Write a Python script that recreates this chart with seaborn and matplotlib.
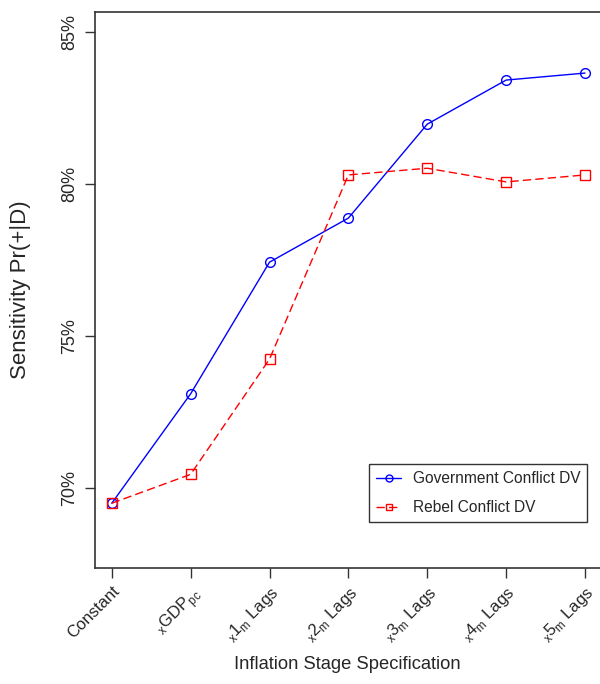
import numpy as np
import pandas as pd
import matplotlib
matplotlib.use("Agg")
import matplotlib.pyplot as plt
import seaborn as sns

# values (percent)
stages = ["Constant", "GDP", "1m", "2m", "3m", "4m", "5m"]
tick_labels = [
    "Constant",
    r"$_\mathregular{x}$GDP$_\mathregular{pc}$",
    r"$_\mathregular{x}$1$_\mathregular{m}$ Lags",
    r"$_\mathregular{x}$2$_\mathregular{m}$ Lags",
    r"$_\mathregular{x}$3$_\mathregular{m}$ Lags",
    r"$_\mathregular{x}$4$_\mathregular{m}$ Lags",
    r"$_\mathregular{x}$5$_\mathregular{m}$ Lags",
]
gov_sens = [69.50, 73.10, 77.43, 78.88, 81.97, 83.42, 83.65]
reb_sens = [69.50, 70.45, 74.24, 80.30, 80.52, 80.07, 80.30]
y_ticks = [70, 75, 80, 85]

sns.set_style("white")
plt.rcParams["font.family"] = ["Liberation Sans", "DejaVu Sans"]
plt.rcParams["mathtext.fontset"] = "custom"
plt.rcParams["mathtext.rm"] = "Liberation Sans"

df = pd.DataFrame({
    "pos": list(range(len(stages))) * 2,
    "value": gov_sens + reb_sens,
    "series": ["Government Conflict DV"] * len(stages) + ["Rebel Conflict DV"] * len(stages),
})

fig = plt.figure(figsize=(6.0, 6.84), dpi=100)
ax = fig.add_axes([0.158, 0.1696, 0.842, 0.8129])

gov = df[df["series"] == "Government Conflict DV"]
reb = df[df["series"] == "Rebel Conflict DV"]
sns.lineplot(data=gov, x="pos", y="value", ax=ax, color="#0000ff", lw=1.0,
             marker="o", markersize=7, markerfacecolor="none", markeredgecolor="#0000ff",
             markeredgewidth=1.0, label="Government Conflict DV")
sns.lineplot(data=reb, x="pos", y="value", ax=ax, color="#ff0000", lw=1.0,
             linestyle=(0, (6, 3)), marker="s", markersize=7, markerfacecolor="none",
             markeredgecolor="#ff0000", markeredgewidth=1.0, label="Rebel Conflict DV")

ax.set_xlim(-0.215, 6.19)
ax.set_ylim(67.37, 85.66)
ax.set_yticks(y_ticks)
ax.set_yticklabels([f"{t}%" for t in y_ticks], rotation=90, va="center", fontsize=13)
ax.set_xticks(range(len(stages)))
ax.set_xticklabels(tick_labels, rotation=45, ha="right", rotation_mode="anchor", fontsize=12)
ax.tick_params(axis="both", direction="out", length=7, width=1, color="#333333", left=True, bottom=True)
ax.tick_params(axis="x", pad=4)
ax.tick_params(axis="y", pad=5)

for side in ["left", "bottom", "top"]:
    ax.spines[side].set_color("#333333")
    ax.spines[side].set_linewidth(1.2)
ax.spines["right"].set_visible(False)

ax.set_xlabel("Inflation Stage Specification", fontsize=13.2, labelpad=8)
ax.set_ylabel("Sensitivity Pr(+|D)", fontsize=16, labelpad=22)

leg = ax.legend(loc="lower right", bbox_to_anchor=(0.975, 0.0827), fontsize=11.2,
                frameon=True, fancybox=False, edgecolor="black", handlelength=1.6,
                handletextpad=0.75, borderpad=0.45, labelspacing=0.9, borderaxespad=0)
leg.get_frame().set_linewidth(1.0)
for h in leg.legend_handles:
    h.set_markersize(5)

fig.savefig("out.png", dpi=100)
